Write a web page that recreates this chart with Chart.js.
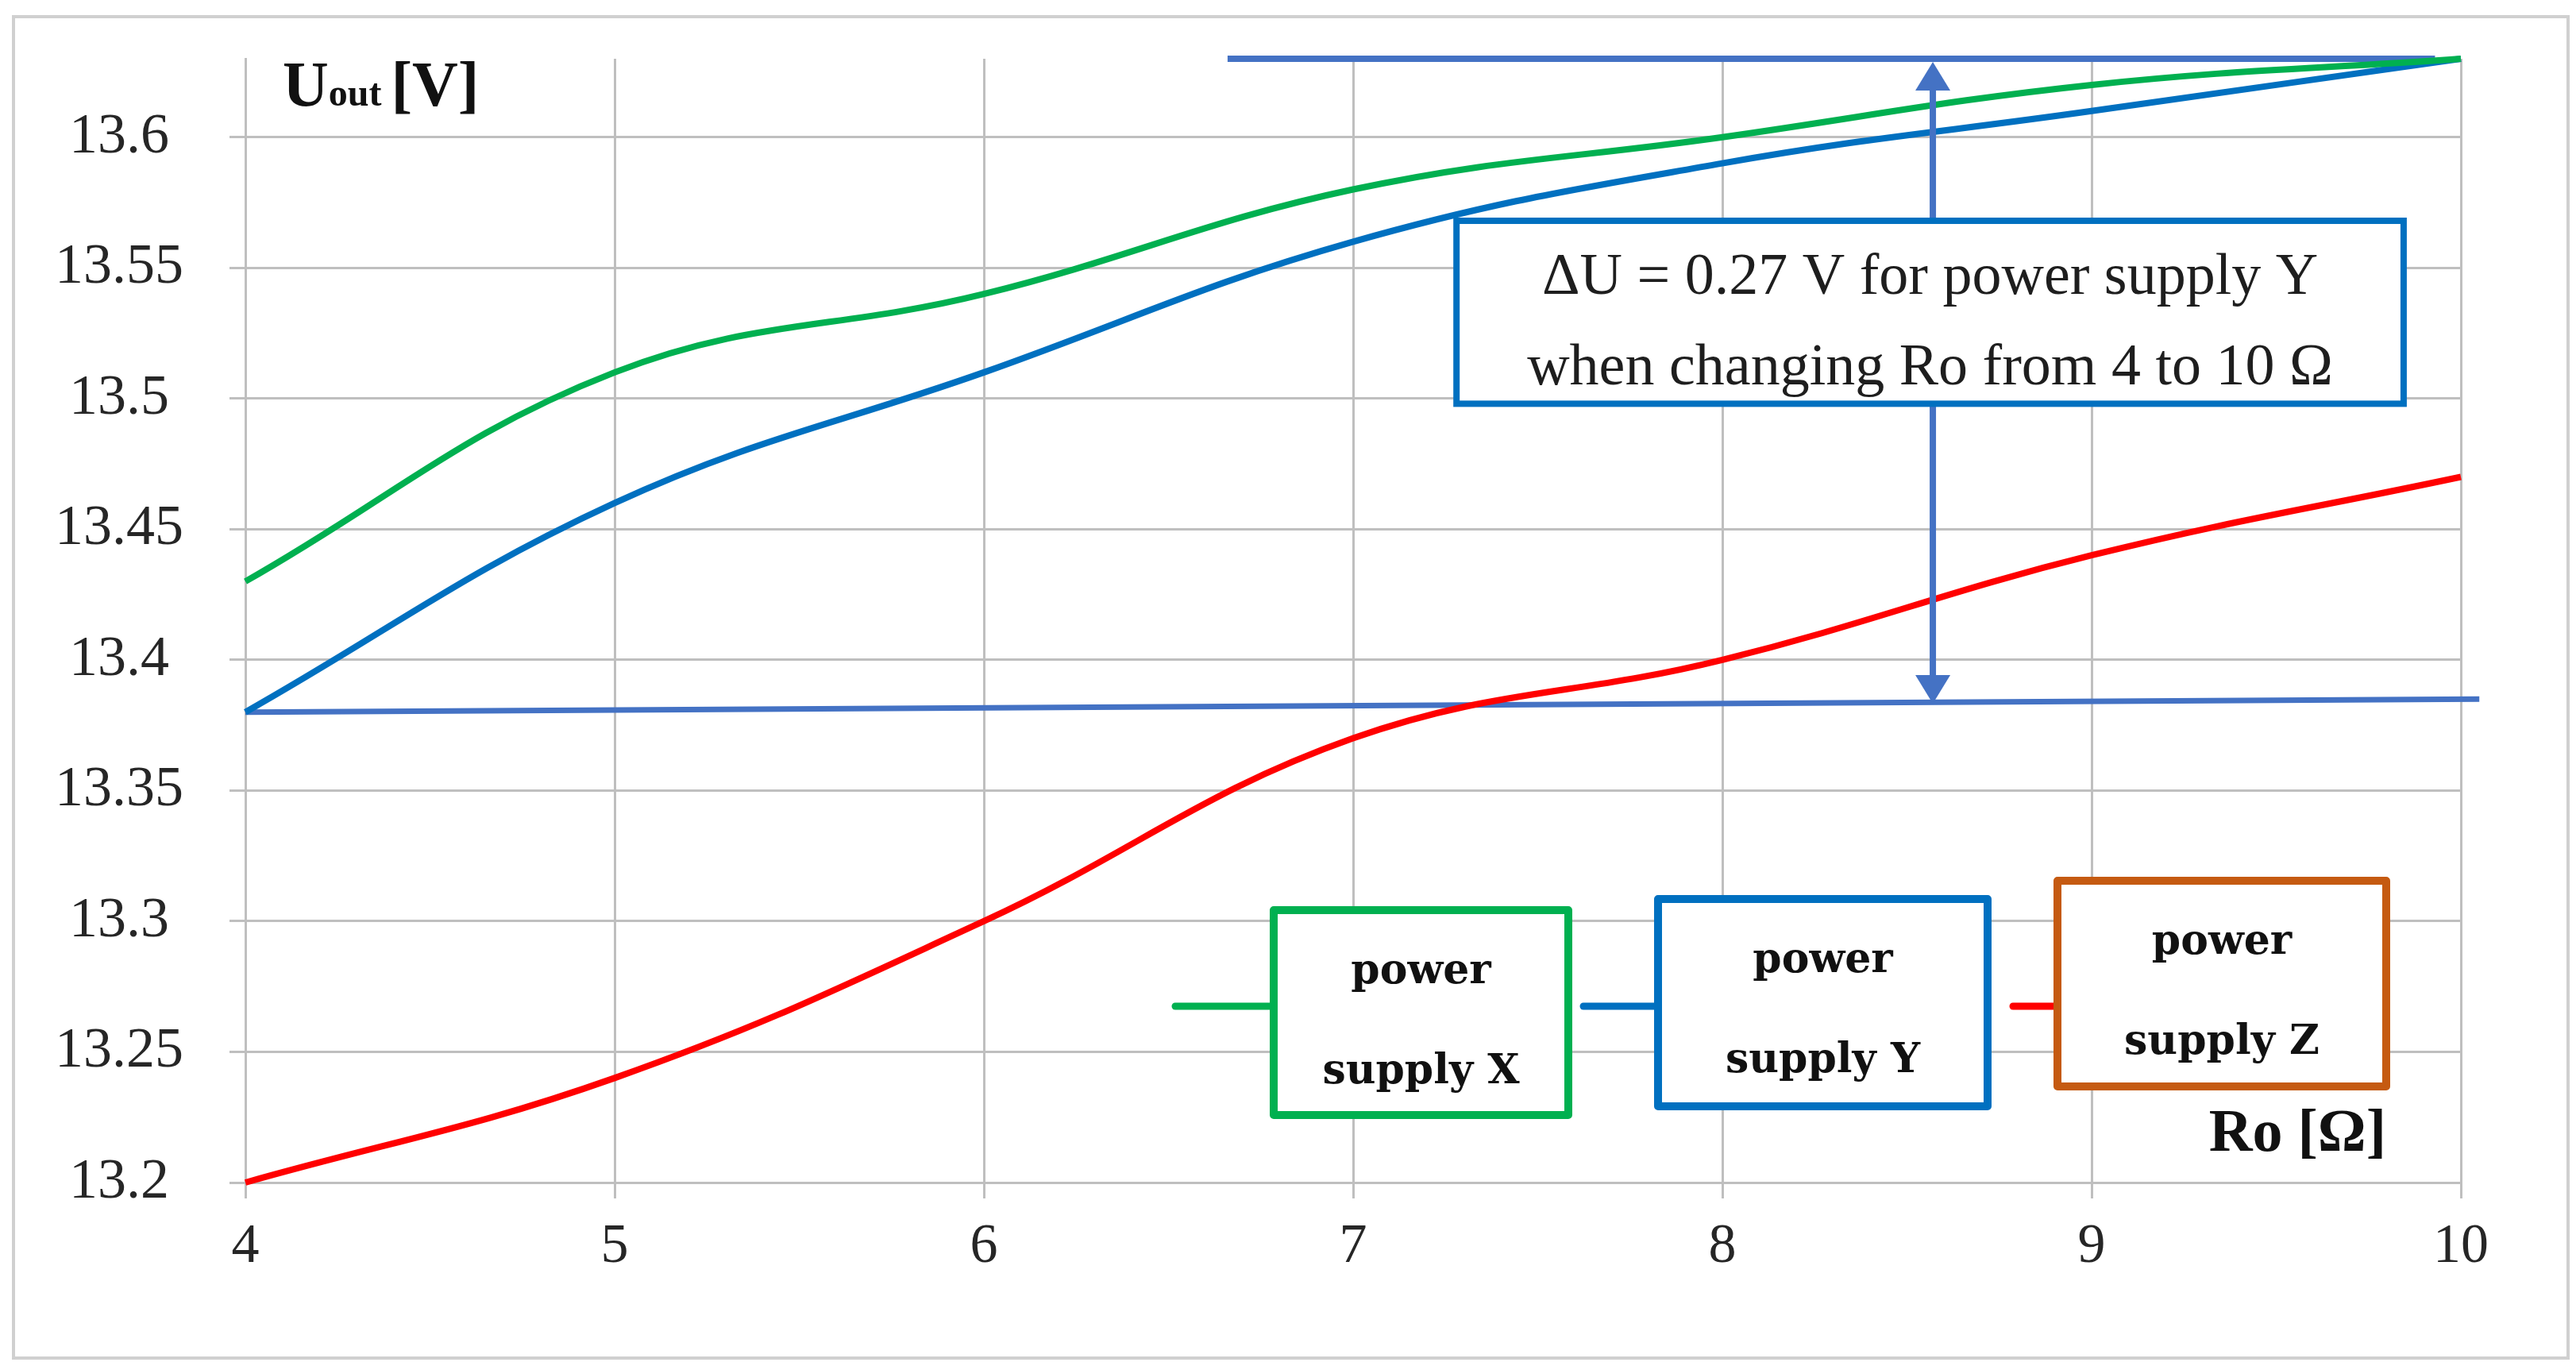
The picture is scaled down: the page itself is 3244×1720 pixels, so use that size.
<!DOCTYPE html>
<html>
<head>
<meta charset="utf-8">
<script src="https://cdn.jsdelivr.net/npm/chart.js@4.4.1/dist/chart.umd.min.js"></script>
<style>
  body { margin: 0; background: #fff; overflow: hidden; }
  #wrap { width: 3244px; height: 1720px; }
  canvas { display: block; }
</style>
</head>
<body>
<div id="wrap"><canvas id="myChart" width="3244" height="1720"></canvas></div>
<script>
// resistance Ro [Ω] and output voltage Uout [V] of the three supplies
let roValues = [4, 5, 6, 7, 8, 9, 10];
let supplyX = [13.43, 13.51, 13.54, 13.58, 13.60, 13.62, 13.63];
let supplyY = [13.38, 13.46, 13.51, 13.56, 13.59, 13.61, 13.63];
let supplyZ = [13.20, 13.24, 13.30, 13.37, 13.40, 13.44, 13.47];
let xTicks = [4, 5, 6, 7, 8, 9, 10];
let yTicks = [13.2, 13.25, 13.3, 13.35, 13.4, 13.45, 13.5, 13.55, 13.6];
let seriesNames = ['power supply X', 'power supply Y', 'power supply Z'];

// delta U marker: top level, bottom level, arrow position
let levelTopX = [6.66, 9.93];
let levelTopY = [13.63, 13.63];
let levelLowX = [4, 10.05];
let levelLowY = [13.38, 13.385];
let arrowAt = 8.57;

let green = '#00B050';
let blue = '#0070C0';
let red = '#FF0000';
let orange = '#C55A11';
let markBlue = '#4472C4';

function pts(xs, ys) {
    return xs.map((x, i) => ({ x: x, y: ys[i] }));
}

let extras = {
    id: 'extras',
    beforeDraw(chart) {
        let c = chart.ctx;
        c.save();
        c.fillStyle = '#fff';
        c.fillRect(0, 0, chart.width, chart.height);
        c.strokeStyle = '#D0D0D0';
        c.lineWidth = 4;
        c.strokeRect(17, 21, 3217, 1689);
        c.restore();
    },
    afterDatasetsDraw(chart) {
        let c = chart.ctx;
        let xs = chart.scales.x, ys = chart.scales.y;
        c.save();

        // arrow between the two levels
        let ax = xs.getPixelForValue(arrowAt);
        let yTop = ys.getPixelForValue(levelTopY[0]) + 4;
        let yLow = ys.getPixelForValue(13.382) - 4;
        c.strokeStyle = markBlue;
        c.fillStyle = markBlue;
        c.lineWidth = 8;
        c.beginPath();
        c.moveTo(ax, yTop + 30);
        c.lineTo(ax, yLow - 30);
        c.stroke();
        c.beginPath();
        c.moveTo(ax, yTop);
        c.lineTo(ax - 22, yTop + 36);
        c.lineTo(ax + 22, yTop + 36);
        c.closePath();
        c.fill();
        c.beginPath();
        c.moveTo(ax, yLow);
        c.lineTo(ax - 22, yLow - 36);
        c.lineTo(ax + 22, yLow - 36);
        c.closePath();
        c.fill();

        // text box
        let bx1 = xs.getPixelForValue(7.28), bx2 = xs.getPixelForValue(9.845);
        let by1 = ys.getPixelForValue(13.568), by2 = ys.getPixelForValue(13.498);
        c.fillStyle = '#fff';
        c.fillRect(bx1, by1, bx2 - bx1, by2 - by1);
        c.strokeStyle = blue;
        c.lineWidth = 8;
        c.strokeRect(bx1, by1, bx2 - bx1, by2 - by1);
        c.fillStyle = '#1e1e1e';
        c.font = '74px "Liberation Serif"';
        c.textAlign = 'center';
        c.textBaseline = 'alphabetic';
        let bcx = (bx1 + bx2) / 2;
        c.fillText('\u0394U = 0.27 V for power supply Y', bcx, by1 + 92);
        c.fillText('when changing Ro from 4 to 10 \u03A9', bcx, by1 + 206);

        // legend boxes
        let legend = [
            { line: [1480, 1604], box: [1604, 1146, 1975, 1404], lc: green, bc: green, name: 'X' },
            { line: [1994, 2088], box: [2088, 1132, 2503, 1393], lc: blue, bc: blue, name: 'Y' },
            { line: [2535, 2591], box: [2591, 1109, 3005, 1368], lc: red, bc: orange, name: 'Z' }
        ];
        legend.forEach(l => {
            c.strokeStyle = l.lc;
            c.lineWidth = 9;
            c.lineCap = 'round';
            c.beginPath();
            c.moveTo(l.line[0], 1267);
            c.lineTo(l.line[1], 1267);
            c.stroke();
            c.lineCap = 'butt';
            let [x1, y1, x2, y2] = l.box;
            c.fillStyle = '#fff';
            c.fillRect(x1, y1, x2 - x1, y2 - y1);
            c.strokeStyle = l.bc;
            c.lineWidth = 10;
            c.lineJoin = 'round';
            c.strokeRect(x1, y1, x2 - x1, y2 - y1);
            c.fillStyle = '#111';
            c.font = 'bold 52px "DejaVu Serif"';
            c.textAlign = 'center';
            c.fillText('power', (x1 + x2) / 2, y1 + 92);
            c.fillText('supply ' + l.name, (x1 + x2) / 2, y1 + 218);
        });

        // axis titles
        c.fillStyle = '#111';
        c.textAlign = 'left';
        c.font = 'bold 80px "Liberation Serif"';
        c.fillText('U', 356, 133);
        let w = c.measureText('U').width;
        c.font = 'bold 48px "Liberation Serif"';
        c.fillText('out', 356 + w, 133);
        let w2 = c.measureText('out ').width;
        c.font = 'bold 80px "Liberation Serif"';
        c.fillText('[V]', 356 + w + w2, 133);
        c.textAlign = 'right';
        c.font = 'bold 76px "Liberation Serif"';
        c.fillText('Ro [\u03A9]', 3005, 1449);
        c.restore();
    }
};

let ctx = document.getElementById('myChart').getContext('2d');
let myChart = new Chart(ctx, {
    type: 'line',
    data: {
        datasets: [
            { label: seriesNames[0], data: pts(roValues, supplyX), borderColor: green, borderWidth: 8, tension: 0.4, pointRadius: 0, clip: false },
            { label: seriesNames[1], data: pts(roValues, supplyY), borderColor: blue, borderWidth: 8, tension: 0.4, pointRadius: 0, clip: false },
            { label: seriesNames[2], data: pts(roValues, supplyZ), borderColor: red, borderWidth: 8, tension: 0.4, pointRadius: 0, clip: false },
            { label: 'top', data: pts(levelTopX, levelTopY), borderColor: markBlue, borderWidth: 8, tension: 0, pointRadius: 0, clip: false },
            { label: 'low', data: pts(levelLowX, levelLowY), borderColor: markBlue, borderWidth: 7, tension: 0, pointRadius: 0, clip: false }
        ]
    },
    options: {
        responsive: false,
        devicePixelRatio: 1,
        animation: false,
        layout: { padding: { top: 74, right: 145, bottom: 0, left: 0 } },
        plugins: { legend: { display: false }, tooltip: { enabled: false } },
        scales: {
            x: {
                type: 'linear',
                min: 4,
                max: 10,
                afterBuildTicks: s => { s.ticks = xTicks.map(v => ({ value: v })); },
                afterFit: s => { s.height = 231; s.paddingLeft = 0; s.paddingRight = 0; },
                grid: { color: '#BFBFBF', lineWidth: 3, tickLength: 20 },
                border: { color: '#BFBFBF', width: 3 },
                ticks: {
                    color: '#262626',
                    padding: 20,
                    font: { family: '"Liberation Serif"', size: 70 },
                    callback: v => String(v)
                }
            },
            y: {
                type: 'linear',
                min: 13.2,
                max: 13.63,
                afterBuildTicks: s => { s.ticks = yTicks.map(v => ({ value: v })); },
                afterFit: s => { s.width = 309; s.paddingTop = 0; s.paddingBottom = 0; },
                grid: { color: '#BFBFBF', lineWidth: 3, tickLength: 20 },
                border: { color: '#BFBFBF', width: 3 },
                ticks: {
                    color: '#262626',
                    padding: 58,
                    crossAlign: 'center',
                    font: { family: '"Liberation Serif"', size: 72 },
                    callback: v => String(Math.round(v * 100) / 100)
                }
            }
        }
    },
    plugins: [extras]
});
</script>
</body>
</html>
